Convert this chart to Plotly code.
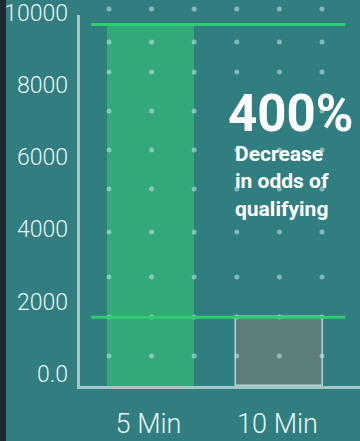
import numpy as np
import plotly.graph_objects as go

# Chart data
categories = ["5 Min", "10 Min"]
qualifying = [10000, 1900]
y_ticks = [0, 2000, 4000, 6000, 8000, 10000]
y_tick_labels = ["0.0", "2000", "4000", "6000", "8000", "10000"]
headline = "400%"
caption_lines = ["Decrease", "in odds of", "qualifying"]

# Palette
BG = "#317e80"
EDGE = "#1f2a30"
GREEN_BAR = "rgba(52,172,120,0.95)"
GREY_BAR = "#5e7e7c"
GREEN_LINE = "#2ecc6f"
AXIS = "#a3c7c4"
TEXT = "#e6f3f1"

W, H = 360, 441
L, R, T, B = 80, 0, 0, 55
pw = W - L - R
ph = H - T - B

# Value scale: 10000 sits 24.5 px below the top of the figure
px_per_unit = (ph - 24.5) / 10000
y_top = ph / px_per_unit

fig = go.Figure()

fig.add_trace(go.Bar(
    x=categories,
    y=qualifying,
    width=0.674,
    marker=dict(
        color=[GREEN_BAR, GREY_BAR],
        line=dict(color=["rgba(0,0,0,0)", "#b7d5d1"], width=[0, 1.5]),
    ),
    hoverinfo="skip",
))

# Decorative dot pattern drawn on a pixel-based overlay
dot_cols = 109 + 42.6 * np.arange(6)
dot_rows = [9, 42, 72, 111, 150, 189, 232, 277, 317, 356]
gx, gy = np.meshgrid(dot_cols, dot_rows)
fig.add_trace(go.Scatter(
    x=gx.ravel(), y=gy.ravel(),
    mode="markers",
    marker=dict(size=5, color="rgba(200,232,228,0.55)"),
    xaxis="x2", yaxis="y2",
    hoverinfo="skip",
))

# Reference lines at each bar's level
for v in qualifying:
    fig.add_shape(type="line", xref="x", yref="y",
                  x0=-0.46, x1=1.51, y0=v, y1=v,
                  line=dict(color=GREEN_LINE, width=3), layer="above")

# Vertical axis line, starting a little below the top edge
fig.add_shape(type="line", xref="paper", yref="paper",
              x0=-1.5 / pw, x1=-1.5 / pw,
              y0=-3 / ph, y1=(ph - 15) / ph,
              line=dict(color=AXIS, width=3), layer="above")

# Dark strip along the left edge
fig.add_shape(type="rect", xref="paper", yref="paper",
              x0=-L / pw, x1=(6 - L) / pw,
              y0=-B / ph, y1=1,
              fillcolor=EDGE, line=dict(width=0), layer="below")

fig.add_annotation(
    text=f"<b>{headline}</b>",
    xref="paper", yref="paper",
    x=(290 - L) / pw, y=(ph - 113) / ph,
    xanchor="center", yanchor="middle",
    showarrow=False,
    font=dict(family="Roboto", size=51, color="white"),
)
fig.add_annotation(
    text="<b>" + "<br>".join(caption_lines) + "</b>",
    xref="paper", yref="paper",
    x=(233 - L) / pw, y=(ph - 140) / ph,
    xanchor="left", yanchor="top", align="left",
    showarrow=False,
    font=dict(family="Roboto", size=21, color="white"),
)

fig.update_layout(
    width=W, height=H,
    margin=dict(l=L, r=R, t=T, b=B),
    paper_bgcolor=BG, plot_bgcolor=BG,
    showlegend=False,
    bargap=0,
    xaxis=dict(
        type="category",
        range=[-0.5465, 1.624],
        showgrid=False, zeroline=False,
        showline=True, linecolor=AXIS, linewidth=3,
        ticks="",
        ticklabelstandoff=12,
        ticklabelshift=-2,
        tickfont=dict(family="Roboto", size=27, color=TEXT, weight=300),
        fixedrange=True,
    ),
    yaxis=dict(
        range=[0, y_top],
        tickvals=y_ticks, ticktext=y_tick_labels,
        showgrid=False, zeroline=False,
        showline=False,
        ticks="",
        ticklabelshift=-12,
        ticklabelstandoff=11,
        ticklabeloverflow="allow",
        tickfont=dict(family="Roboto", size=23, color=TEXT, weight=300),
        fixedrange=True,
    ),
    xaxis2=dict(overlaying="x", anchor="y2", range=[L, W - R], visible=False),
    yaxis2=dict(overlaying="y", anchor="x2", range=[H - B, T], visible=False),
)

fig.write_html("out.html")
